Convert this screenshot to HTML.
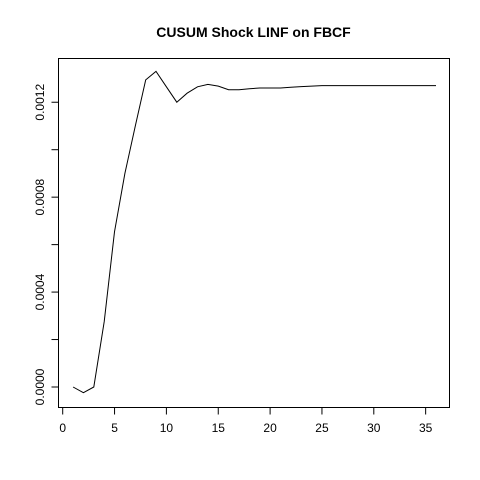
<!DOCTYPE html>
<html><head><meta charset="utf-8"><style>body{margin:0;background:#fff}svg{display:block}text{font-family:"Liberation Sans",Arial,sans-serif}</style></head>
<body>
<svg id="chart" width="480" height="480" xmlns="http://www.w3.org/2000/svg">
<rect width="480" height="480" fill="#fff"/>
<text x="253.5" y="37" text-anchor="middle" font-size="14" font-weight="bold">CUSUM Shock LINF on FBCF</text>
<rect x="58.5" y="58.5" width="391" height="349" fill="none" stroke="#000"/>
<g id="xaxis"></g>
<g id="yaxis"></g>
<g id="series"></g>
</svg>
<script>
const periods=[1,2,3,4,5,6,7,8,9,10,11,12,13,14,15,16,17,18,19,20,21,22,23,24,25,26,27,28,29,30,31,32,33,34,35,36];
const cusum=[0,-0.000024,0,0.000275,0.000654,0.0009,0.0011,0.001294,0.00133,0.001265,0.0012,0.001238,0.001265,0.001275,0.001268,0.001253,0.001253,0.001257,0.00126,0.00126,0.00126,0.001263,0.001266,0.001268,0.00127,0.00127,0.00127,0.00127,0.00127,0.00127,0.00127,0.00127,0.00127,0.00127,0.00127,0.00127];
const xTicks=[0,5,10,15,20,25,30,35];
const yTicks=[0,0.0004,0.0008,0.0012];
const yTickLabels=["0.0000","0.0004","0.0008","0.0012"];
const yMinor=[0.0002,0.0006,0.001];
const NS="http://www.w3.org/2000/svg";
function X(v){return 62.7+v*10.37;}
function Y(v){return 387-v*237300;}
function el(t,a,p){const e=document.createElementNS(NS,t);for(const k in a)e.setAttribute(k,a[k]);p.appendChild(e);return e;}
const xa=document.getElementById('xaxis'),ya=document.getElementById('yaxis'),sr=document.getElementById('series');
el('line',{x1:X(0),x2:X(35),y1:407.5,y2:407.5,stroke:'#000'},xa);
xTicks.forEach(v=>{
 const l=el('line',{x1:X(v),x2:X(v),y1:407.5,y2:414.5,stroke:'#000'},xa);
 
 
 const t=el('text',{x:X(v),y:432,'text-anchor':'middle','font-size':12},xa);
 
 
 t.textContent=v;
});
el('line',{x1:58.5,x2:58.5,y1:Y(0),y2:Y(0.0012),stroke:'#000'},ya);
yTicks.concat(yMinor).forEach(v=>{
 const l=el('line',{x1:51.5,x2:58.5,y1:Y(v),y2:Y(v),stroke:'#000'},ya);
 
 
});
yTicks.forEach((v,i)=>{
 const t=el('text',{x:0,y:0,'text-anchor':'middle','font-size':12,transform:'translate(44,'+Y(v)+') rotate(-90)'},ya);
 
 
 t.textContent=yTickLabels[i];
});
const pts=periods.map((p,i)=>X(p).toFixed(1)+','+Y(cusum[i]).toFixed(1)).join(' ');
const pl=el('polyline',{points:pts,fill:'none',stroke:'#000','stroke-width':1},sr);


</script>
</body></html>
